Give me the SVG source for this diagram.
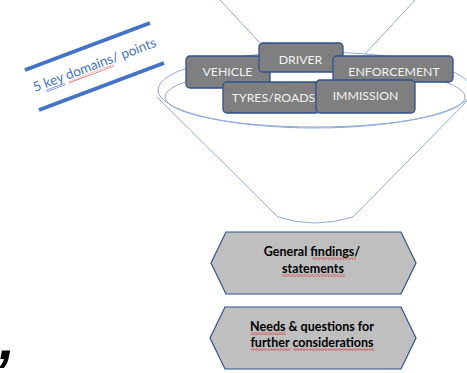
<svg xmlns="http://www.w3.org/2000/svg" width="467" height="373" viewBox="0 0 467 373">
<style>
.fun{fill:none;stroke:#8faadc;stroke-width:1}
.box{fill:#7f7f7f;stroke:#2f528f;stroke-width:1.3}
.bl{font-family:Lato,"Liberation Sans",sans-serif;font-size:12.3px;fill:#f2f2f2;text-anchor:middle}
.hex{fill:#bfbfbf;stroke:#2f528f;stroke-width:1.2}
.ht{font-family:Lato,"Liberation Sans",sans-serif;font-size:12.5px;font-weight:bold;fill:#000;text-anchor:middle}
.sq{fill:url(#squig)}
</style>
<defs>
<pattern id="squig" width="3" height="2.4" patternUnits="userSpaceOnUse">
<path d="M0,2 L1.5,0.4 L3,2" fill="none" stroke="#e00000" stroke-width="0.7"/>
</pattern>
</defs>
<g id="funnel">
<line class="fun" x1="220" y1="0" x2="260" y2="43"/>
<line class="fun" x1="415" y1="0" x2="365" y2="54"/>
<ellipse class="fun" cx="315" cy="90" rx="157" ry="38"/>
<ellipse class="fun" cx="315" cy="97" rx="150" ry="30"/>
<path class="fun" d="M157,97 L278,217 Q315,229 353,217 L472,96"/>
</g>
<g id="label-domains">
<line x1="25" y1="70" x2="150" y2="23" stroke="#4472c4" stroke-width="4"/>
<line x1="39" y1="110" x2="164" y2="63" stroke="#4472c4" stroke-width="4"/>
<g transform="translate(35,92) rotate(-20.5)">
<text x="0" y="0" font-family="Lato,'Liberation Sans',sans-serif" font-size="13.5" fill="#4472c4">5 key domains/ points</text>
<rect class="sq" x="35" y="1.5" width="48" height="2.4"/>
<line x1="11" y1="2.2" x2="31" y2="2.2" stroke="#4472c4" stroke-width="0.6"/>
<line x1="11" y1="3.8" x2="31" y2="3.8" stroke="#4472c4" stroke-width="0.6"/>
</g>
</g>
<g id="node-vehicle"><rect class="box" x="186" y="56" width="84" height="32" rx="4"/><text class="bl" x="227.5" y="76">VEHICLE</text></g>
<g id="node-driver"><rect class="box" x="259" y="43" width="84" height="29" rx="4"/><text class="bl" x="300.5" y="64">DRIVER</text></g>
<g id="node-enforcement"><rect class="box" x="333" y="56" width="120" height="26" rx="4"/><text class="bl" x="394" y="76">ENFORCEMENT</text></g>
<g id="node-tyres"><rect class="box" x="223" y="82" width="97" height="31" rx="4"/><text class="bl" x="273.5" y="102">TYRES/ROADS</text></g>
<g id="node-immission"><rect class="box" x="316" y="80" width="99" height="33" rx="4"/><text class="bl" x="365.5" y="100">IMMISSION</text></g>
<g id="node-findings">
<polygon class="hex" points="211,263 226,232 401,232 416,263 401,294 226,294"/>
<text class="ht" x="312" y="256">General findings/</text>
<text class="ht" x="313" y="273">statements</text>
<rect class="sq" x="312" y="257.5" width="44" height="2.4"/>
<rect class="sq" x="282" y="274.5" width="63" height="2.4"/>
</g>
<g id="node-needs">
<polygon class="hex" points="210,338 225,307 401,307 416,338 401,369 225,369"/>
<text class="ht" x="312" y="331">Needs &amp; questions for</text>
<text class="ht" x="312" y="347">further considerations</text>
<rect class="sq" x="251" y="332.5" width="35" height="2.4"/>
<rect class="sq" x="251" y="348.5" width="39" height="2.4"/>
<rect class="sq" x="293" y="348.5" width="81" height="2.4"/>
</g>
<text x="-1" y="359" font-family="'Liberation Sans',sans-serif" font-weight="bold" font-style="italic" font-size="58" fill="#000">,</text>
</svg>
